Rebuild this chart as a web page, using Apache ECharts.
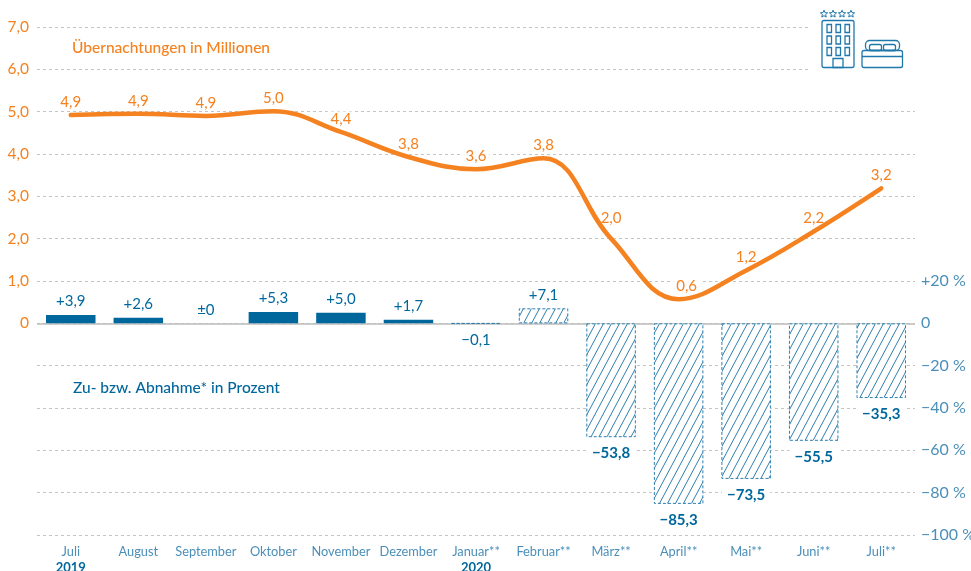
<!DOCTYPE html>
<html>
<head>
<meta charset="utf-8" />
<style>
  html, body { margin: 0; padding: 0; background: #fff; }
  #chart { width: 971px; height: 571px; }
</style>
<script src="https://cdn.jsdelivr.net/npm/echarts@6/dist/echarts.min.js"></script>
</head>
<body>
<div id="chart"></div>
<script>
const months = ["Juli", "August", "September", "Oktober", "November", "Dezember", "Januar**", "Februar**", "März**", "April**", "Mai**", "Juni**", "Juli**"];
const years = ["2019", "", "", "", "", "", "2020", "", "", "", "", "", ""];
const nights = [4.92, 4.95, 4.9, 5.01, 4.52, 3.93, 3.64, 3.9, 2.0, 0.57, 1.25, 2.17, 3.19];
const nightLabels = ["4,9", "4,9", "4,9", "5,0", "4,4", "3,8", "3,6", "3,8", "2,0", "0,6", "1,2", "2,2", "3,2"];
const change = [3.9, 2.6, 0, 5.3, 5.0, 1.7, -0.1, 7.1, -53.8, -85.3, -73.5, -55.5, -35.3];
const changeLabels = ["+3,9", "+2,6", "±0", "+5,3", "+5,0", "+1,7", "−0,1", "+7,1", "−53,8", "−85,3", "−73,5", "−55,5", "−35,3"];
const provisional = [false, false, false, false, false, false, true, true, true, true, true, true, true];

const ORANGE = "#f58220";
const BLUE = "#00679d";
const LIGHT_BLUE = "#4b8fb9";
const FONT = "Lato";

// hatch for the provisional months
function hatchPattern() {
  const c = document.createElement("canvas");
  c.width = 8;
  c.height = 15;
  const ctx = c.getContext("2d");
  ctx.fillStyle = "#fff";
  ctx.fillRect(0, 0, 8, 15);
  ctx.strokeStyle = "#2f7fae";
  ctx.lineWidth = 1;
  [-8, 0, 8].forEach((dx) => {
    ctx.beginPath();
    ctx.moveTo(dx, 15);
    ctx.lineTo(dx + 8, 0);
    ctx.stroke();
  });
  return c;
}

const hatch = hatchPattern();

const myChart = echarts.init(document.getElementById("chart"), null, { renderer: "canvas" });

const iconStyle = { stroke: "#1f77ab", fill: "none", lineWidth: 1.3 };
const star = (x) => ({
  type: "polygon",
  z: 2,
  shape: {
    points: [0, 1, 2, 3, 4, 5, 6, 7, 8, 9].map((i) => {
      const r = i % 2 ? 1.7 : 3.8;
      const a = -Math.PI / 2 + (i * Math.PI) / 5;
      return [x + r * Math.cos(a), 14 + r * Math.sin(a)];
    }),
  },
  style: { ...iconStyle, lineWidth: 1 },
});
const box = (x, y, width, height, r) => ({
  type: "rect",
  z: 2,
  shape: { x, y, width, height, r: r || 0 },
  style: iconStyle,
});

const windows = [];
[24.5, 36, 47.5].forEach((y) => {
  [827, 836, 845].forEach((x) => windows.push(box(x, y, 4.5, 8)));
});

myChart.setOption({
  animation: false,
  textStyle: { fontFamily: FONT },
  grid: { left: 37, right: 56, top: 27, bottom: 36, outerBoundsMode: "none" },
  title: [
    {
      text: "Übernachtungen in Millionen",
      left: 72,
      top: 40,
      padding: 0,
      textStyle: { color: ORANGE, fontSize: 15.5, fontWeight: 500, fontFamily: FONT },
    },
    {
      text: "Zu- bzw. Abnahme* in Prozent",
      left: 73,
      top: 380,
      padding: 0,
      textStyle: { color: BLUE, fontSize: 15.5, fontWeight: 500, fontFamily: FONT },
    },
  ],
  graphic: [
    { type: "rect", z: 1, shape: { x: 808, y: 20, width: 110, height: 55 }, style: { fill: "#fff" } },
    {
      type: "group",
      children: [
        star(824),
        star(833),
        star(842),
        star(851),
        box(822, 20.5, 32, 47, 2),
        box(833, 58.5, 10, 9),
        ...windows,
        box(862, 50.5, 40.5, 17, 2),
        { type: "line", z: 2, shape: { x1: 862, y1: 56.5, x2: 902.5, y2: 56.5 }, style: iconStyle },
        box(865.5, 40.5, 34, 10, 4),
        box(869.5, 44.5, 12, 6, 2),
        box(883.5, 44.5, 12, 6, 2),
      ],
    },
  ],
  xAxis: {
    type: "category",
    data: months,
    axisLine: { show: false, onZero: false },
    axisTick: { show: false },
    axisLabel: {
      interval: 0,
      margin: 9,
      formatter: (v, i) => (years[i] ? `${v}\n{year|${years[i]}}` : v),
      color: LIGHT_BLUE,
      fontSize: 12.8,
      lineHeight: 16,
      rich: {
        year: { color: BLUE, fontSize: 13, fontWeight: "bold", lineHeight: 16, fontFamily: FONT },
      },
    },
  },
  yAxis: [
    {
      type: "value",
      min: -5,
      max: 7,
      interval: 1,
      axisLine: { show: false },
      axisTick: { show: false },
      axisLabel: {
        color: ORANGE,
        fontSize: 15.5,
        margin: 8,
        formatter: (v) => (v < 0 ? "" : v === 0 ? "0" : v.toFixed(1).replace(".", ",")),
      },
      splitLine: { show: true, lineStyle: { color: "#c4c4c4", type: [3, 3], width: 1 } },
    },
    {
      type: "value",
      min: -100,
      max: 140,
      interval: 20,
      axisLine: { show: false },
      axisTick: { show: false },
      splitLine: { show: false },
      axisLabel: {
        color: LIGHT_BLUE,
        fontSize: 16,
        margin: 6,
        formatter: (v) => {
          if (v > 20) return "";
          if (v === 0) return "0";
          return (v > 0 ? "+" : "−") + Math.abs(v) + " %";
        },
      },
    },
  ],
  series: [
    {
      type: "bar",
      yAxisIndex: 1,
      barWidth: 49.5,
      z: 3,
      data: change.map((value, i) => ({
        value,
        itemStyle: provisional[i]
          ? {
              color: { image: hatch, repeat: "repeat" },
              borderColor: "#2f7fae",
              borderWidth: 1,
              borderType: [3, 2],
            }
          : { color: BLUE },
        label:
          value < 0
            ? { position: "bottom", distance: 7.5, fontWeight: value < -1 ? "bold" : "normal" }
            : { position: "top", distance: 5 },
      })),
      label: {
        show: true,
        color: BLUE,
        fontSize: 15,
        backgroundColor: "#fff",
        padding: [1, 5],
        formatter: (p) => changeLabels[p.dataIndex],
      },
      markLine: {
        silent: true,
        symbol: "none",
        z: 2,
        label: { show: false },
        lineStyle: { color: "#bdbdbd", type: "solid", width: 1.5 },
        data: [{ yAxis: 0 }],
      },
    },
    // labels sit in their own invisible series so the white box stays under the curve
    {
      type: "line",
      yAxisIndex: 0,
      symbol: "circle",
      symbolSize: 1,
      showSymbol: true,
      z: 3,
      itemStyle: { color: "rgba(0,0,0,0)" },
      lineStyle: { color: "rgba(0,0,0,0)" },
      data: nights.map((value, i) => ({
        value,
        label: {
          distance: months[i] === "März**" ? 13 : 5,
          offset: months[i] === "April**" ? [8, 0] : [0, 0],
        },
      })),
      label: {
        show: true,
        position: "top",
        color: ORANGE,
        fontSize: 15,
        backgroundColor: "#fff",
        padding: [0, 3],
        formatter: (p) => nightLabels[p.dataIndex],
      },
    },
    {
      type: "line",
      yAxisIndex: 0,
      smooth: 0.4,
      symbol: "none",
      z: 4,
      lineStyle: { color: ORANGE, width: 4.5, cap: "round" },
      data: nights,
    },
  ],
});

window.addEventListener("resize", () => myChart.resize());
</script>
</body>
</html>
